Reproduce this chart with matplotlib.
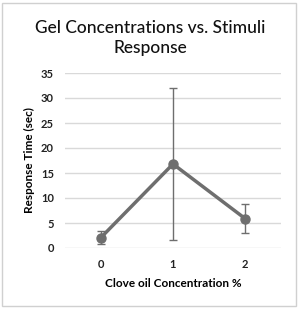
import matplotlib.pyplot as plt
from matplotlib.patches import Rectangle

categories = ["0", "1", "2"]
response = [2.1, 16.8, 5.9]
errors = [1.3, 15.2, 2.9]
yticks = [0, 5, 10, 15, 20, 25, 30, 35]

plt.rcParams['font.family'] = ['Lato', 'DejaVu Sans']
gray = '#6e6e6e'

fig = plt.figure(figsize=(3.0, 3.13), dpi=100)
fig.patches.append(Rectangle((2/300, 1 - 306/313), 294/300, 303/313, transform=fig.transFigure,
                             fill=False, edgecolor='#d0d0d0', linewidth=1.0))
ax = fig.add_axes([65/300, 1 - 248/313, 216/300, 175/313])

x = list(range(len(categories)))
ax.errorbar(x, response, yerr=errors, color=gray, linewidth=2.5, marker='o', markersize=6.5,
            ecolor=gray, elinewidth=1.0, capsize=3, capthick=1.0, zorder=3)

ax.set_xlim(-0.5, len(categories) - 0.5)
ax.set_ylim(0, 35)
ax.set_yticks(yticks)
ax.set_xticks(x)
ax.set_xticklabels(categories)
ax.yaxis.grid(True, color='#d9d9d9', linewidth=1.0)
ax.set_axisbelow(True)
for s in ax.spines.values():
    s.set_visible(False)
ax.tick_params(length=0, labelsize=8, colors='#222222', pad=8)
for lbl in ax.get_xticklabels() + ax.get_yticklabels():
    lbl.set_fontweight('bold')

ax.set_xlabel("Clove oil Concentration %", fontsize=8.5, fontweight='bold', labelpad=6)
ax.set_ylabel("Response Time (sec)", fontsize=8.5, fontweight='bold', labelpad=4)
fig.text(0.5, 1 - 38/313, "Gel Concentrations vs. Stimuli\nResponse", ha='center', va='center',
         fontsize=12.5, fontweight='medium', linespacing=1.3, color='#111111')

fig.savefig('out.png', dpi=100)
